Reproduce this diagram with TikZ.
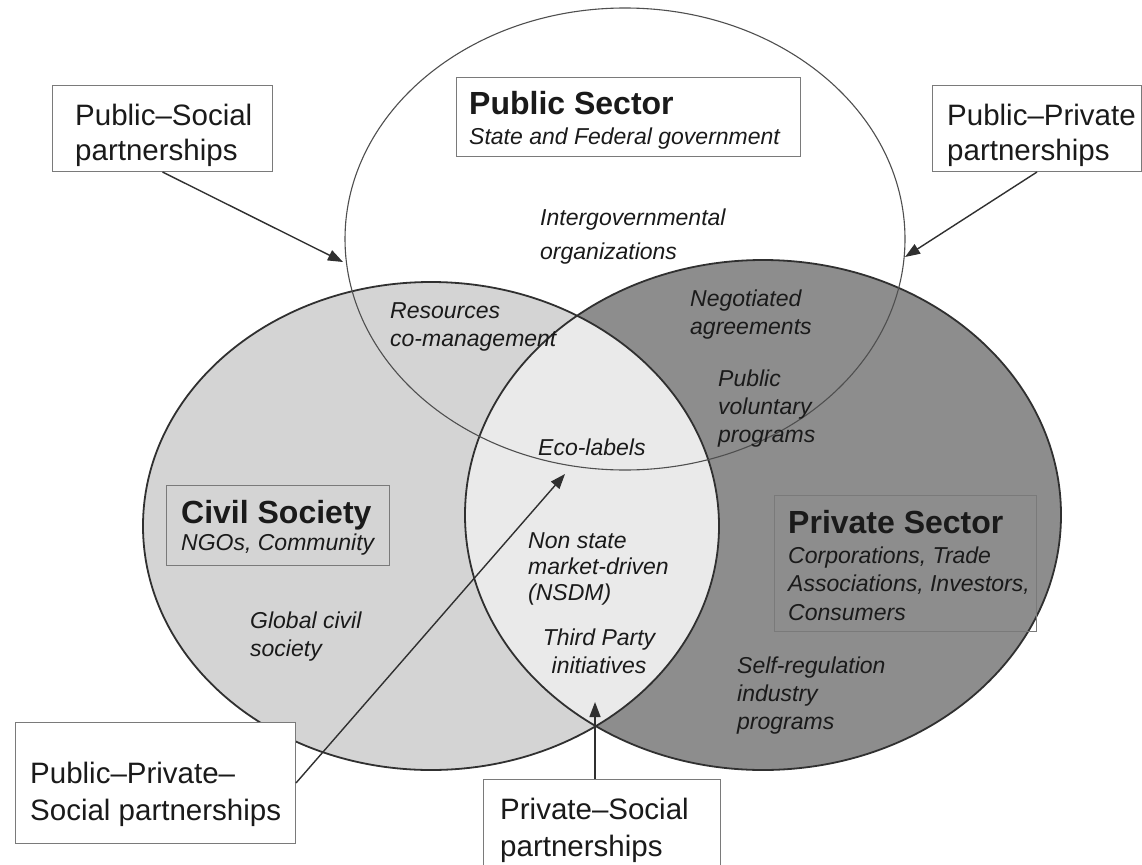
\documentclass[tikz,border=0pt]{standalone}
\usepackage{fontspec}
\setmainfont{Liberation Sans}
\usetikzlibrary{arrows.meta}
\definecolor{civ}{HTML}{D4D4D4}
\definecolor{pri}{HTML}{8D8D8D}
\definecolor{mix}{HTML}{EAEAEA}
\definecolor{ink}{HTML}{303030}
\definecolor{edgec}{HTML}{7A7A7A}
\definecolor{txt}{HTML}{1A1A1A}
\begin{document}
\begin{tikzpicture}[x=1pt,y=-1pt,
  ol/.style={draw=ink, line width=1.8pt},
  pubol/.style={draw=ink!85, line width=1.1pt},
  lbl/.style={font=\fontsize{23}{28}\selectfont\itshape, align=left, anchor=base west, inner sep=0pt, text=txt},
  head/.style={font=\fontsize{32}{34}\selectfont\bfseries, anchor=base west, inner sep=0pt, text=txt},
  sub/.style={font=\fontsize{23}{28.5}\selectfont\itshape, align=left, anchor=base west, inner sep=0pt, text=txt},
  secframe/.style={draw=edgec, line width=1pt, anchor=north west, inner sep=0pt},
  frame/.style={draw=edgec, line width=1pt, fill=white, anchor=north west, inner sep=0pt},
  ptext/.style={align=left, anchor=base west, inner sep=0pt, text=txt, font=\fontsize{29.5}{36}\selectfont},
  ar/.style={draw=ink, line width=1.4pt, -{Triangle[length=15pt,width=11pt]}}
]
\useasboundingbox (0,0) rectangle (1142,864);
\fill[white] (0,0) rectangle (1142,864);
\begin{scope}
\clip (0,0) rectangle (1142,864);
% region fills
\fill[civ] (431,526) ellipse [x radius=288pt, y radius=244pt];
\fill[pri] (763,515) ellipse [x radius=298pt, y radius=255pt];
\begin{scope}
  \clip (431,526) ellipse [x radius=288pt, y radius=244pt];
  \fill[mix] (763,515) ellipse [x radius=298pt, y radius=255pt];
\end{scope}
% outlines
\draw[ol] (431,526) ellipse [x radius=288pt, y radius=244pt];
\draw[ol] (763,515) ellipse [x radius=298pt, y radius=255pt];
\draw[pubol] (625,239) ellipse [x radius=280pt, y radius=231pt];

% sector boxes
\node[secframe, minimum width=344pt, minimum height=79pt] (pub) at (456,77) {};
\node[head] (pubH) at (469,115) {Public Sector};
\node[sub] (pubS) at (469,144) {State and Federal government};

\node[secframe, minimum width=223pt, minimum height=80pt] (civ) at (166,485) {};
\node[head] (civH) at (181,523) {Civil Society};
\node[sub] (civS) at (181,550) {NGOs, Community};

\node[secframe, minimum width=262pt, minimum height=136pt] (pri) at (774,495) {};
\node[head] (priH) at (788,533) {Private Sector};
\node[sub] (priS) at (788,620) {Corporations, Trade\\Associations, Investors,\\Consumers};

% region labels (anchor = baseline of last line)
\node[lbl, font=\fontsize{23}{34}\selectfont\itshape] (igo) at (540,259) {Intergovernmental\\organizations};
\node[lbl] (res) at (390,346) {Resources\\co-management};
\node[lbl] (neg) at (690,334) {Negotiated\\agreements};
\node[lbl] (pvp) at (718,442) {Public\\voluntary\\programs};
\node[lbl] (eco) at (538,455) {Eco-labels};
\node[lbl, font=\fontsize{23}{26}\selectfont\itshape] (nsdm) at (528,600) {Non state\\market-driven\\(NSDM)};
\node[lbl, align=center, anchor=base] (tpi) at (599,673) {Third Party\\initiatives};
\node[lbl] (gcs) at (250,656) {Global civil\\society};
\node[lbl] (srp) at (737,729) {Self-regulation\\industry\\programs};

% partnership boxes
\node[frame, minimum width=220pt, minimum height=86pt] (ps) at (52,85) {};
\node[ptext, font=\fontsize{29.5}{35}\selectfont] (psT) at (75,160) {Public--Social\\partnerships};
\node[frame, minimum width=209pt, minimum height=86pt] (pp) at (932,85) {};
\node[ptext, font=\fontsize{29.5}{35}\selectfont] (ppT) at (947,160) {Public--Private\\partnerships};
\node[frame, minimum width=280pt, minimum height=121pt] (pps) at (15,722) {};
\node[ptext, font=\fontsize{29.5}{37}\selectfont] (ppsT) at (30,820) {Public--Private--\\Social partnerships};
\node[frame, minimum width=237pt, minimum height=100pt] (prs) at (483,779) {};
\node[ptext, font=\fontsize{29.5}{37}\selectfont] (prsT) at (500,856) {Private--Social\\partnerships};

% arrow targets
\coordinate (tps) at (343,262);
\coordinate (tpp) at (905,257);
\coordinate (tpps) at (565,474);
\coordinate (tprs) at (595,702);

\draw[ar] (ps.south) -- (tps);
\draw[ar] (pp.south) -- (tpp);
\draw[ar] (pps.east) -- (tpps);
\draw[ar] (prs.north -| tprs) -- (tprs);
\end{scope}
\end{tikzpicture}
\end{document}
